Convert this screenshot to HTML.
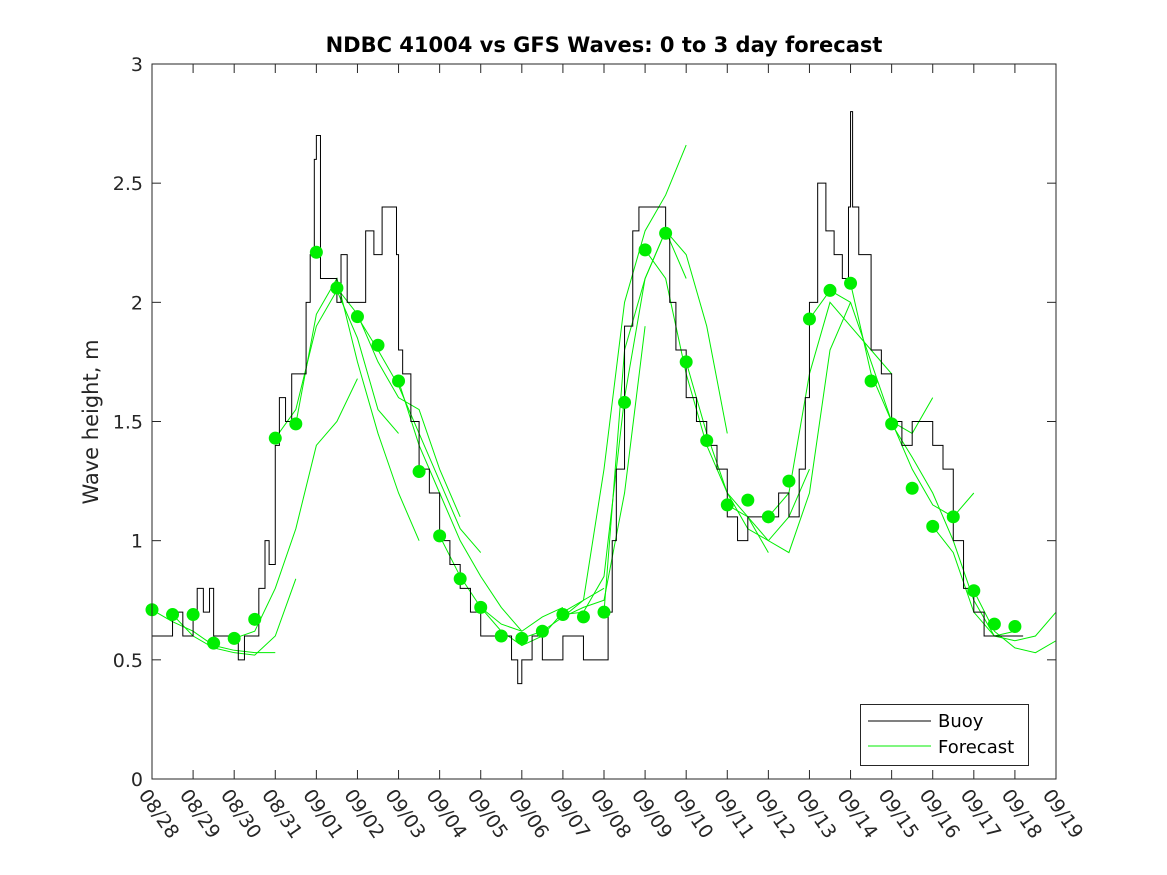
<!DOCTYPE html>
<html><head><meta charset="utf-8"><style>
html,body{margin:0;padding:0;background:#fff;}
svg{display:block;font-family:"DejaVu Sans","Liberation Sans",sans-serif;}
</style></head><body>
<svg id="chart" width="1167" height="875" viewBox="0 0 1167 875" xmlns="http://www.w3.org/2000/svg">
<rect width="1167" height="875" fill="#fff"/>
<text x="604" y="52" text-anchor="middle" font-size="21" font-weight="bold" fill="#000">NDBC 41004 vs GFS Waves: 0 to 3 day forecast</text>
<text transform="translate(98,422) rotate(-90)" text-anchor="middle" font-size="21" fill="#262626">Wave height, m</text>
<g id="plot"></g>
<rect x="152" y="64" width="904" height="715" fill="none" stroke="#262626" stroke-width="1"/>
<g>
<rect x="860.5" y="704.5" width="168" height="61" fill="#fff" stroke="#262626"/>
<line x1="868" y1="721" x2="931" y2="721" stroke="#000"/>
<text x="938" y="727" font-size="18" fill="#000">Buoy</text>
<line x1="868" y1="746" x2="931" y2="746" stroke="#00ee00"/>
<text x="938" y="753" font-size="18" fill="#000">Forecast</text>
</g>
</svg>
<script>
const xTickLabels=["08/28","08/29","08/30","08/31","09/01","09/02","09/03","09/04","09/05","09/06","09/07","09/08","09/09","09/10","09/11","09/12","09/13","09/14","09/15","09/16","09/17","09/18","09/19"];
const yTicks=[0,0.5,1,1.5,2,2.5,3];
const yTickLabels=["0","0.5","1","1.5","2","2.5","3"];
const buoyDays=[0,0.25,0.5,0.75,1,1.1,1.25,1.4,1.5,1.75,2,2.1,2.25,2.5,2.6,2.75,2.85,3,3.1,3.25,3.4,3.5,3.6,3.75,3.85,3.95,4,4.1,4.25,4.5,4.6,4.75,5,5.2,5.4,5.6,5.8,5.95,6,6.1,6.3,6.5,6.75,7,7.25,7.5,7.75,8,8.25,8.5,8.75,8.9,9,9.1,9.25,9.5,10,10.5,11,11.1,11.2,11.3,11.5,11.7,11.85,12,12.25,12.5,12.6,12.75,13,13.25,13.5,13.75,14,14.25,14.5,14.75,15,15.25,15.5,15.6,15.75,15.9,16,16.2,16.4,16.6,16.8,16.95,17,17.05,17.2,17.5,17.75,18,18.25,18.5,18.75,19,19.25,19.5,19.75,20,20.25,20.5,21,21.2];
const buoyValues=[0.6,0.6,0.7,0.6,0.7,0.8,0.7,0.8,0.6,0.6,0.6,0.5,0.6,0.6,0.8,1.0,0.9,1.4,1.6,1.5,1.7,1.7,1.7,2.0,2.2,2.6,2.7,2.1,2.1,2.0,2.2,2.0,2.0,2.3,2.2,2.4,2.4,2.2,1.8,1.7,1.5,1.3,1.2,1.0,0.9,0.8,0.7,0.6,0.6,0.6,0.5,0.4,0.5,0.5,0.6,0.5,0.6,0.5,0.5,0.7,1.0,1.3,1.9,2.3,2.4,2.4,2.4,2.3,2.0,1.8,1.6,1.5,1.4,1.3,1.1,1.0,1.1,1.1,1.1,1.2,1.1,1.1,1.3,1.6,2.0,2.5,2.3,2.2,2.1,2.4,2.8,2.4,2.2,1.8,1.7,1.5,1.4,1.5,1.5,1.4,1.3,1.0,0.8,0.7,0.6,0.6,0.6,0.6];
const dotDays=[0,0.5,1,1.5,2,2.5,3,3.5,4,4.5,5,5.5,6,6.5,7,7.5,8,8.5,9,9.5,10,10.5,11,11.5,12,12.5,13,13.5,14,14.5,15,15.5,16,16.5,17,17.5,18,18.5,19,19.5,20,20.5,21];
const dotValues=[0.71,0.69,0.69,0.57,0.59,0.67,1.43,1.49,2.21,2.06,1.94,1.82,1.67,1.29,1.02,0.84,0.72,0.60,0.59,0.62,0.69,0.68,0.70,1.58,2.22,2.29,1.75,1.42,1.15,1.17,1.10,1.25,1.93,2.05,2.08,1.67,1.49,1.22,1.06,1.10,0.79,0.65,0.64];
const runStarts=[0,0.5,2,3,3.5,4.5,5,6,7,8,9,10,10,11,12,13,14,15,16,17,18,19,20];
const runValues=[
[0.71,0.66,0.62,0.56,0.54,0.53,0.53],
[0.69,0.6,0.55,0.53,0.52,0.6,0.84],
[0.59,0.62,0.8,1.05,1.4,1.5,1.68],
[1.43,1.55,1.9,2.05,1.85,1.55,1.45],
[1.49,1.95,2.1,1.75,1.45,1.2,1.0],
[2.06,1.95,1.75,1.6,1.55,1.3,1.1],
[1.94,1.8,1.65,1.45,1.25,1.05,0.95],
[1.67,1.4,1.2,1.0,0.85,0.72,0.62],
[1.02,0.85,0.72,0.65,0.62,0.68,0.72],
[0.72,0.62,0.56,0.6,0.7,0.75,0.8],
[0.59,0.62,0.68,0.72,0.75,1.2,1.9],
[0.69,0.7,0.85,1.6,2.1,2.3,2.1],
[0.68,0.75,1.3,2.0,2.3,2.45,2.66],
[0.7,1.8,2.1,2.3,2.2,1.9,1.45],
[2.22,2.1,1.7,1.4,1.2,1.1,0.95],
[1.75,1.45,1.2,1.05,1.0,1.1,1.3],
[1.15,1.1,1.0,0.95,1.2,1.8,2.0],
[1.10,1.2,1.7,2.0,1.9,1.8,1.7],
[1.93,2.05,2.0,1.75,1.5,1.45,1.6],
[2.08,1.7,1.5,1.3,1.15,1.1,1.2],
[1.49,1.35,1.2,1.0,0.75,0.6,0.62],
[1.06,0.95,0.7,0.6,0.58,0.6,0.7],
[0.79,0.62,0.55,0.53,0.58,0.62]
];
const NS="http://www.w3.org/2000/svg";
const X0=152,X1=1056,Y0=779,Y1=64;
const xs=d=>X0+(X1-X0)*d/22;
const ys=v=>Y0-(Y0-Y1)*v/3;
const g=document.getElementById('plot');
function mk(t,a){const e=document.createElementNS(NS,t);for(const k in a)e.setAttribute(k,a[k]);return e;}
xTickLabels.forEach((lab,i)=>{
 const x=xs(i);
 const t1=mk('line',{x1:x,y1:Y0,x2:x,y2:Y0-9,stroke:'#262626'});
 
 
 g.appendChild(t1);
 const t2=mk('line',{x1:x,y1:Y1,x2:x,y2:Y1+9,stroke:'#262626'});
 
 
 g.appendChild(t2);
 const tx=mk('text',{transform:`translate(${x-14},${Y0+16}) rotate(55)`,'font-size':19,fill:'#262626'});
 tx.textContent=lab;
 
 
 g.appendChild(tx);
});
yTicks.forEach((v,i)=>{
 const y=ys(v);
 const t1=mk('line',{x1:X0,y1:y,x2:X0+9,y2:y,stroke:'#262626'});
 
 
 g.appendChild(t1);
 const t2=mk('line',{x1:X1,y1:y,x2:X1-9,y2:y,stroke:'#262626'});
 
 
 g.appendChild(t2);
 const tx=mk('text',{x:X0-9,y:y+7,'text-anchor':'end','font-size':19,fill:'#262626'});
 tx.textContent=yTickLabels[i];
 
 
 g.appendChild(tx);
});
runStarts.forEach((s,r)=>{
 const pts=runValues[r].map((v,k)=>xs(Math.min(22,s+k*0.5))+','+ys(v)).join(' ');
 const pl=mk('polyline',{points:pts,fill:'none',stroke:'#00ee00','stroke-width':1});
 
 
 g.appendChild(pl);
});
let d='';
buoyDays.forEach((day,i)=>{
 const x=xs(day),y=ys(buoyValues[i]);
 if(i===0)d+=`M${x},${y}`;else d+=`H${x}V${y}`;
});
const bp=mk('path',{d:d,fill:'none',stroke:'#000','stroke-width':1});


g.appendChild(bp);
dotDays.forEach((day,i)=>{
 const c=mk('circle',{cx:xs(day),cy:ys(dotValues[i]),r:6.5,fill:'#00ee00'});
 
 
 g.appendChild(c);
});
</script>
</body></html>
